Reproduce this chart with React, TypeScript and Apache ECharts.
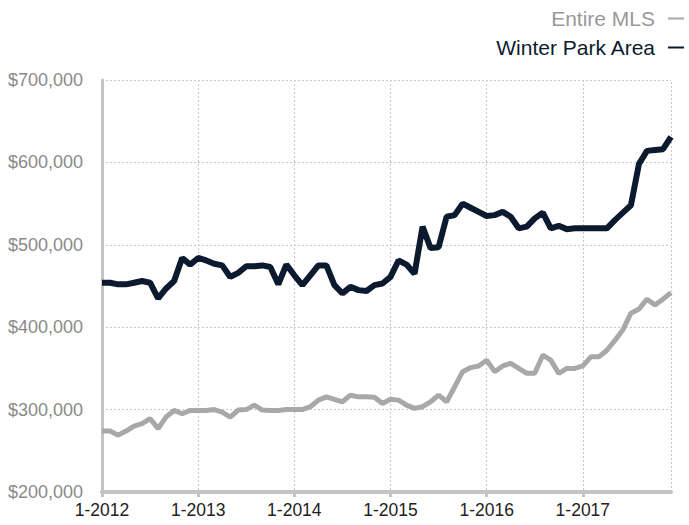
import React, { useEffect, useRef } from "react";
import * as echarts from "echarts";

const years = [2012, 2013, 2014, 2015, 2016, 2017];
const categories: string[] = [];
years.forEach((y) => {
  for (let m = 1; m <= 12; m++) categories.push(`${m}-${y}`);
});

const winterPark = [
  454000, 454000, 452000, 452000, 454000, 456000, 454000, 435000, 447000, 456000, 484000, 476000,
  484000, 481000, 477000, 475000, 461000, 466000, 474000, 474000, 475000, 473000, 452000, 476000,
  463000, 451000, 463000, 475000, 475000, 451000, 441000, 449000, 445000, 444000, 451000, 453000,
  461000, 481000, 476000, 465000, 522000, 496000, 497000, 534000, 536000, 550000, 545000, 540000,
  535000, 536000, 540000, 534000, 520000, 522000, 532000, 539000, 520000, 523000, 519000, 520000,
  520000, 520000, 520000, 520000, 530000, 539000, 548000, 598000, 614000, 615000, 616000, 631000,
];

const entireMLS = [
  274000, 274000, 269000, 274000, 280000, 283000, 289000, 277000, 291000, 299000, 295000, 299000,
  299000, 299000, 300000, 297000, 291000, 299500, 300000, 305500, 299500, 299000, 299000, 300000,
  300000, 300000, 303500, 311500, 315500, 312500, 309500, 317500, 315500, 315500, 315000, 307500,
  312500, 311500, 305500, 301500, 303500, 309500, 317500, 309500, 327500, 346000, 351000, 353000,
  360000, 346000, 353000, 356000, 350000, 344000, 344000, 366000, 360000, 344000, 350000, 350000,
  353000, 364000, 364000, 372000, 384000, 397000, 417000, 422000, 434000, 427000, 434000, 442000,
];

const yTicks = { min: 200000, max: 700000, interval: 100000 };

const DARK = "#0b1a2e";
const GRAY = "#a8a8a8";
const FONT = "Liberation Sans, Arial, Helvetica, sans-serif";

export default function App() {
  const ref = useRef<HTMLDivElement>(null);
  useEffect(() => {
    if (!ref.current) return;
    const chart = echarts.init(ref.current, undefined, { renderer: "svg" });
    chart.setOption({
      animation: false,
      textStyle: { fontFamily: FONT },
      legend: {
        orient: "vertical",
        right: 0,
        top: 3,
        align: "right",
        icon: "rect",
        itemWidth: 16,
        itemHeight: 2,
        itemGap: 8,
        textStyle: { fontSize: 21, fontFamily: FONT, padding: [0, 8, 0, 0] },
        data: [
          { name: "Entire MLS", textStyle: { color: "#999999" } },
          { name: "Winter Park Area", textStyle: { color: DARK } },
        ],
      },
      grid: { left: 102, right: 18, top: 80, bottom: 33, containLabel: false },
      xAxis: {
        type: "category",
        data: categories,
        boundaryGap: false,
        axisLine: { show: true, lineStyle: { color: "#c4c4c4", width: 4 } },
        axisTick: { show: true, interval: 11, length: 5, lineStyle: { color: "#c4c4c4", width: 3 } },
        axisLabel: { interval: 11, color: "#222222", fontSize: 17.5, margin: 9, fontFamily: FONT },
        splitLine: { show: true, interval: 11, lineStyle: { color: "#c8c8c8", type: [2, 2], width: 1 } },
      },
      yAxis: {
        type: "value",
        min: yTicks.min,
        max: yTicks.max,
        interval: yTicks.interval,
        axisLine: { show: true, lineStyle: { color: "#c4c4c4", width: 3 } },
        axisTick: { show: false },
        axisLabel: {
          color: "#8a8a8a",
          fontSize: 18,
          margin: 19,
          fontFamily: FONT,
          formatter: (v: number) => "$" + v.toLocaleString("en-US"),
        },
        splitLine: { show: true, lineStyle: { color: "#c8c8c8", type: [2, 2], width: 1 } },
      },
      series: [
        {
          name: "Entire MLS",
          type: "line",
          data: entireMLS,
          symbol: "none",
          color: GRAY,
          lineStyle: { color: GRAY, width: 5 },
          z: 3,
        },
        {
          name: "Winter Park Area",
          type: "line",
          data: winterPark,
          symbol: "none",
          color: DARK,
          lineStyle: { color: DARK, width: 6 },
          z: 4,
          markLine: {
            silent: true,
            symbol: "none",
            label: { show: false },
            lineStyle: { color: "#c8c8c8", type: [2, 2], width: 1 },
            data: [{ xAxis: categories[categories.length - 1] }],
            z: 1,
          },
        },
      ],
    });
    return () => chart.dispose();
  }, []);
  return (
    <div
      ref={ref}
      style={{ position: "fixed", left: 0, top: 0, width: 689, height: 525, background: "#ffffff" }}
    />
  );
}
